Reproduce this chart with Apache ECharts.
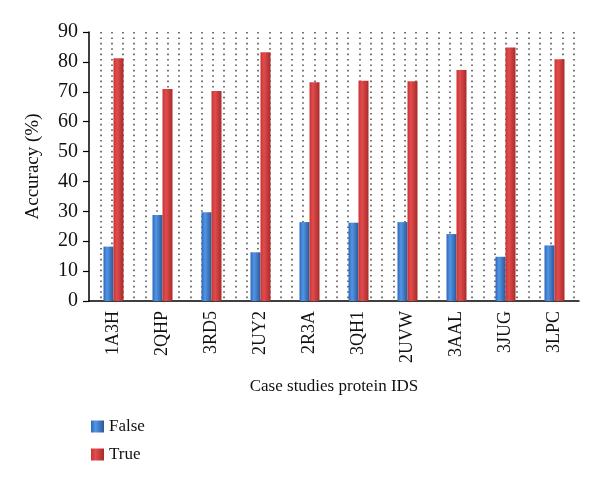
<!DOCTYPE html>
<html>
<head>
<meta charset="utf-8">
<script src="https://cdn.jsdelivr.net/npm/echarts@6/dist/echarts.min.js"></script>
<style>html,body{margin:0;padding:0;background:#fff}#c{width:600px;height:485px}</style>
</head>
<body>
<div id="c"></div>
<script>
var categories = ['1A3H','2QHP','3RD5','2UY2','2R3A','3QH1','2UVW','3AAL','3JUG','3LPC'];
var falseValues = [18.2, 28.8, 29.7, 16.3, 26.4, 26.2, 26.4, 22.4, 14.8, 18.6];
var trueValues  = [81.2, 70.9, 70.3, 83.2, 73.2, 73.7, 73.5, 77.3, 84.8, 80.9];
var yTicks = [0, 10, 20, 30, 40, 50, 60, 70, 80, 90];

var FONT = '"Liberation Serif", "DejaVu Serif", serif';
var chart = echarts.init(document.getElementById('c'), null, {renderer: 'canvas'});

function grad(a, b, c) {
  return new echarts.graphic.LinearGradient(0, 0, 1, 0, [
    {offset: 0, color: a}, {offset: 0.35, color: b}, {offset: 1, color: c}
  ]);
}

chart.setOption({
  animation: false,
  backgroundColor: '#fff',
  textStyle: {fontFamily: FONT},
  grid: {left: 89, right: 21, top: 32, bottom: 184, containLabel: false},
  legend: {
    orient: 'vertical', left: 86, top: 413,
    icon: 'rect',
    itemWidth: 13, itemHeight: 12, itemGap: 11,
    textStyle: {fontFamily: FONT, fontSize: 17, color: '#111'},
    data: ['False', 'True']
  },
  xAxis: [{
    type: 'category', data: categories,
    name: 'Case studies protein IDS', nameLocation: 'middle', nameGap: 77,
    nameTextStyle: {fontFamily: FONT, fontSize: 17, color: '#111'},
    axisLine: {lineStyle: {color: '#000', width: 1.5}},
    axisTick: {show: false},
    axisLabel: {rotate: 90, margin: 10, fontFamily: FONT, fontSize: 18, color: '#111'},
    splitLine: {show: false}
  }, {
    type: 'value', min: 0, max: 43.48, interval: 1, position: 'top',
    axisLine: {show: false}, axisTick: {show: false}, axisLabel: {show: false},
    splitLine: {show: true, showMinLine: false, showMaxLine: false,
      lineStyle: {color: '#555', width: 1.6, type: [1.6, 3.8]}}
  }],
  yAxis: {
    type: 'value', min: 0, max: 90, interval: 10,
    name: 'Accuracy (%)', nameLocation: 'middle', nameGap: 46,
    nameTextStyle: {fontFamily: FONT, fontSize: 19, color: '#111'},
    axisLine: {show: true, lineStyle: {color: '#000', width: 1.5}},
    axisTick: {show: true, inside: false, length: 6, lineStyle: {color: '#000', width: 1.2}},
    axisLabel: {margin: 11, fontFamily: FONT, fontSize: 20, color: '#111',
      formatter: function (v) { return yTicks.indexOf(v) >= 0 ? String(v) : ''; }},
    splitLine: {show: false}
  },
  series: [{
    name: 'False', type: 'bar', data: falseValues, barWidth: 10, barGap: '0%',
    itemStyle: {color: grad('#2e67b8', '#5296e6', '#2a5898')}
  }, {
    name: 'True', type: 'bar', data: trueValues, barWidth: 10, barGap: '0%',
    itemStyle: {color: grad('#c83333', '#e24c4c', '#a82a2a')}
  }]
});
</script>
</body>
</html>
